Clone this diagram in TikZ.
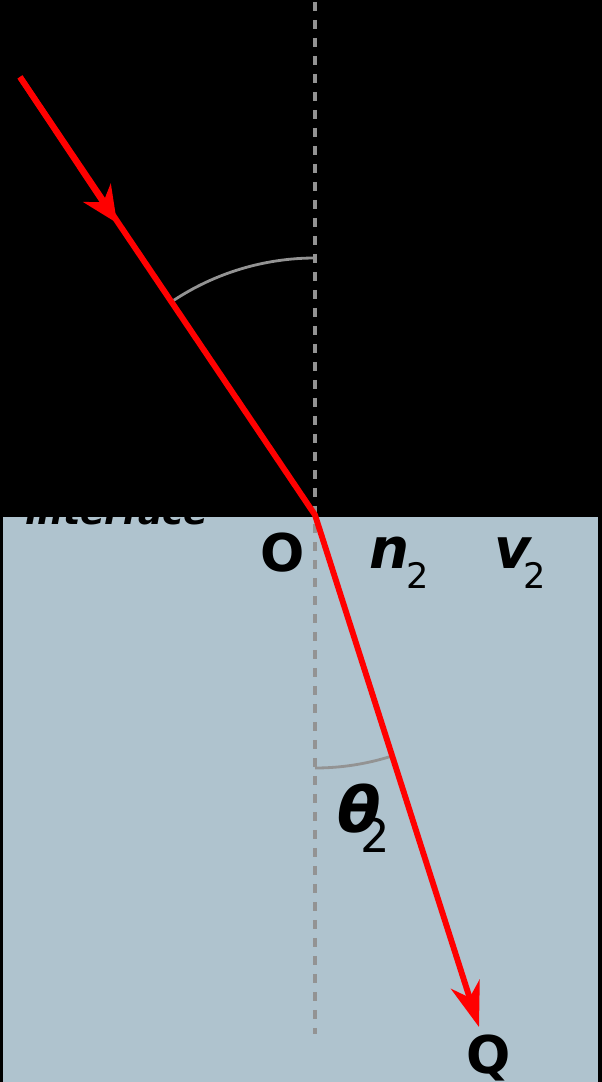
\documentclass[tikz,border=0pt]{standalone}
\usepackage{fontspec}
\setmainfont{DejaVu Sans}
\usetikzlibrary{arrows.meta}
\definecolor{water}{HTML}{AFC3CE}
\definecolor{guide}{HTML}{939393}

\begin{document}
\begin{tikzpicture}[x=0.025cm, y=-0.025cm,
    ray/.style={draw=red, line width=4.2pt, line join=miter},
    normal/.style={draw=guide, line width=2.2pt, dash pattern=on 6.6pt off 6.2pt},
    anglearc/.style={draw=guide, line width=2pt},
    lbl/.style={inner sep=0pt, font=\bfseries\fontsize{37}{40}\selectfont}]
    \useasboundingbox (0,0) rectangle (602,1082);
    \fill[black] (0,0) rectangle (602,1082);
    \filldraw[fill=water, draw=black, line width=1.5pt] (2,516) rectangle (599,1095);
    \coordinate (top) at (315,2);
    \coordinate (bottom) at (315,1034);
    \coordinate (P) at (20,77);
    \coordinate (M) at (117,223);
    \coordinate (O) at (315,515);
    \coordinate (Q) at (479,1027);
    % normal through O
    \draw[normal] (top) -- (bottom);
    % angle arcs
    \draw[anglearc] ([shift={(-90:257)}]O) arc[start angle=-90, end angle=-123.5, radius=257];
    \draw[anglearc] ([shift={(90:253)}]O) arc[start angle=90, end angle=72.5, radius=253];
    % the ray
    \draw[ray, -{Stealth[length=1.12cm, width=0.75cm, inset=0.35cm]}] (P) -- (O) -- (Q);
    \draw[ray, -{Stealth[length=0.9cm, width=0.82cm, inset=0.28cm]}] (P) -- (M);
    % labels
    \node[anchor=base west, inner sep=0pt, font=\bfseries\itshape\fontsize{25.6}{28}\selectfont] (iface) at (25,524) {interface};
    \node[lbl, anchor=base] (o) at (283,571) {O};
    \node[lbl, anchor=base] (q) at (489,1073) {Q};
    \node[lbl, anchor=base west, font=\bfseries\itshape\fontsize{40}{42}\selectfont] (n2) at (369,568)
        {n\kern-0.08cm\raisebox{-0.5cm}{\mdseries\upshape\fontsize{25}{27}\selectfont 2}};
    \node[lbl, anchor=base west, font=\bfseries\itshape\fontsize{40}{42}\selectfont] (v2) at (494,568)
        {v\kern-0.18cm\raisebox{-0.5cm}{\mdseries\upshape\fontsize{25}{27}\selectfont 2}};
    \node[lbl, anchor=base west, font=\bfseries\itshape\fontsize{45}{48}\selectfont] (theta2) at (337,832)
        {θ\kern-0.5cm\raisebox{-0.52cm}{\mdseries\upshape\fontsize{33}{35}\selectfont 2}};
\end{tikzpicture}
\end{document}
